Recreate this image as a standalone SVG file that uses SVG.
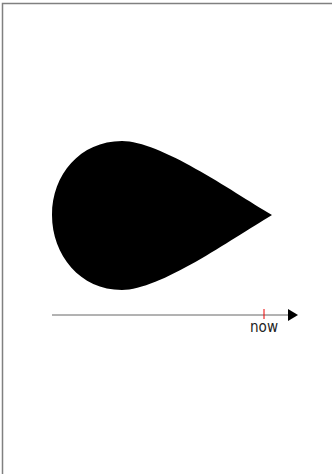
<svg xmlns="http://www.w3.org/2000/svg" width="332" height="474" viewBox="0 0 332 474">
<style>
.frame{fill:none;stroke:#808080;stroke-width:1.5}
.axis{stroke:#666;stroke-width:1}
.label{font-family:"DejaVu Sans",sans-serif;font-size:16px;fill:#222}
</style>
<defs>
<marker id="arr" viewBox="0 0 10 12" refX="0" refY="6" markerWidth="10" markerHeight="12" markerUnits="userSpaceOnUse" orient="auto">
<path d="M0,0 L10,6 L0,12 Z" fill="#000"/>
</marker>
</defs>
<rect width="332" height="474" fill="#fff"/>
<path class="frame" d="M2.5,474 V3.5 H332"/>
<g id="drop">
<path d="M272,215 C230,190 160,141 122,141 C80,141 52,175 52,215 C52,255 80,290 122,290 C160,290 230,240 272,215 Z" fill="#000"/>
</g>
<g id="connectors">
<line class="axis" x1="52" y1="315" x2="288" y2="315" marker-end="url(#arr)"/>
</g>
<g id="now">
<line x1="264" y1="309" x2="264" y2="319" stroke="#e00" stroke-width="1"/>
<text class="label" x="250" y="331.5" textLength="28" lengthAdjust="spacingAndGlyphs">now</text>
</g>
</svg>
